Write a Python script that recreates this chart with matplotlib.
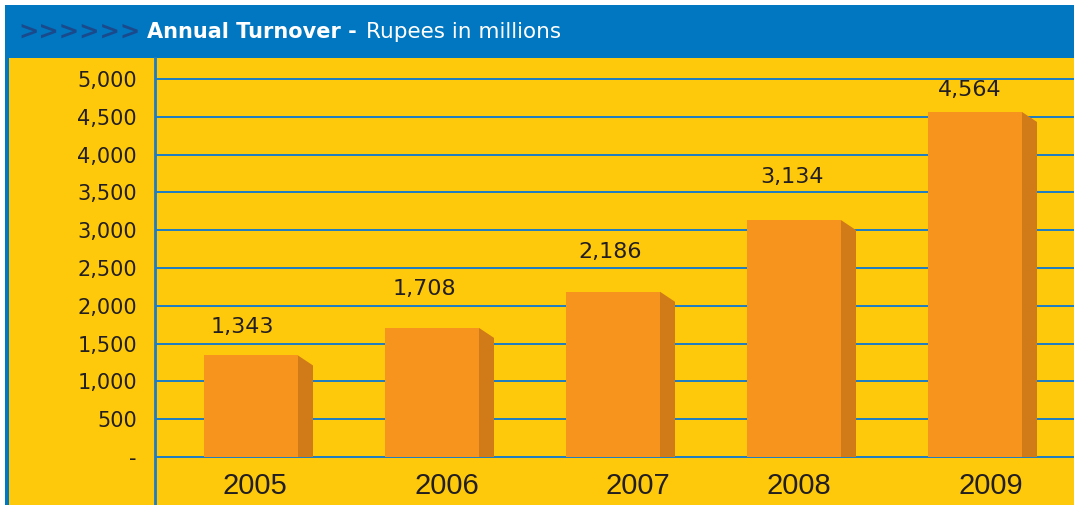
import matplotlib
matplotlib.use("Agg")
import matplotlib.pyplot as plt
from matplotlib.patches import Rectangle, Polygon
from matplotlib.ticker import FixedLocator

# ---- data ----
years = ["2005", "2006", "2007", "2008", "2009"]
turnover = [1343, 1708, 2186, 3134, 4564]
value_labels = ["1,343", "1,708", "2,186", "3,134", "4,564"]
y_ticks = [0, 500, 1000, 1500, 2000, 2500, 3000, 3500, 4000, 4500, 5000]
y_tick_labels = ["-", "500", "1,000", "1,500", "2,000", "2,500", "3,000",
                 "3,500", "4,000", "4,500", "5,000"]
title_bold = "Annual Turnover -"
title_rest = "Rupees in millions"

# ---- style ----
W, H, DPI = 1074, 505, 100
YELLOW = "#FFC90B"
BLUE = "#0077C0"
GRID = "#1C7CC4"
CHEV = "#1A4A8C"
FRONT = "#F7941E"
SIDE = "#D17A18"
TXT = "#231F20"

fig = plt.figure(figsize=(W / DPI, H / DPI), dpi=DPI)
fig.patch.set_facecolor("white")

def px(x0, y0, w, h, color, z=-5):
    fig.patches.append(Rectangle((x0 / W, 1 - (y0 + h) / H), w / W, h / H,
                                 transform=fig.transFigure, facecolor=color,
                                 edgecolor="none", zorder=z))

px(9, 58, W - 9, H - 58, YELLOW)       # yellow panel
px(5, 5, W - 5, 53, BLUE)              # header bar
px(5, 5, 4, H - 5, BLUE)               # left border

# header text
fig.text(18 / W, 1 - 33 / H, ">>>>>>", color=CHEV, fontsize=17.5, fontweight="heavy",
         va="center", ha="left", family="DejaVu Sans")
fig.text(147 / W, 1 - 32 / H, title_bold, color="white", fontsize=15,
         fontweight="bold", va="center", ha="left", family="DejaVu Sans")
fig.text(366 / W, 1 - 32 / H, title_rest, color="white", fontsize=15.5,
         va="center", ha="left", family="DejaVu Sans")

# axes: x from px 155 to 1074; y: 0 at px 457, 5000 at px 79
ax_left, ax_top = 155, 58
ax = fig.add_axes([ax_left / W, 0, (W - ax_left) / W, (H - ax_top) / H])
ax.set_zorder(5)
ax.set_facecolor("none")
upp = 5000 / (457 - 79)           # data units per pixel
ymin = 0 - (H - 457) * upp
ymax = 5000 + (79 - ax_top) * upp
ax.set_ylim(ymin, ymax)

spacing_px = 181
first_center_px = 251
x0 = -(first_center_px - ax_left) / spacing_px
x1 = (W - first_center_px) / spacing_px
ax.set_xlim(x0, x1)
xpu = 1 / spacing_px              # data x per pixel

bar_w = 94 * xpu
depth = 15 * xpu
drop = 10 * upp
for i, v in enumerate(turnover):
    left = i - bar_w / 2
    right = i + bar_w / 2
    ax.add_patch(Polygon([(right, 0), (right, v), (right + depth, v - drop),
                          (right + depth, 0)], closed=True, facecolor=SIDE,
                         edgecolor="none", zorder=3))
    ax.add_patch(Rectangle((left, 0), bar_w, v, facecolor=FRONT,
                           edgecolor="none", zorder=4))

# value labels
label_dy_px = [28, 39, 40, 43, 22]
label_dx_px = [-9, -8, -3, -2, -5]
for i, v in enumerate(turnover):
    ax.text(i + label_dx_px[i] * xpu, v + label_dy_px[i] * upp, value_labels[i],
            ha="center", va="center", fontsize=16, color=TXT,
            family="DejaVu Sans", zorder=5)

# year labels
year_dx_px = [4, 15, 25, 5, 16]
for i, yr in enumerate(years):
    ax.text(i + year_dx_px[i] * xpu, 0 - 29 * upp, yr, ha="center", va="center",
            fontsize=21, color=TXT, family="Liberation Sans", zorder=5)

# grid
ax.yaxis.set_major_locator(FixedLocator(y_ticks))
ax.set_yticklabels(y_tick_labels)
ax.grid(axis="y", color=GRID, linewidth=1.4, zorder=1)
ax.set_axisbelow(True)
ax.set_xticks([])
ax.tick_params(axis="y", length=0, pad=13, labelsize=15, labelcolor=TXT)
for lab in ax.get_yticklabels():
    lab.set_family("DejaVu Sans")
for s in ["top", "right", "bottom"]:
    ax.spines[s].set_visible(False)
ax.spines["left"].set_color(GRID)
ax.spines["left"].set_linewidth(2)

fig.savefig("out.png", dpi=DPI, facecolor=fig.get_facecolor())
